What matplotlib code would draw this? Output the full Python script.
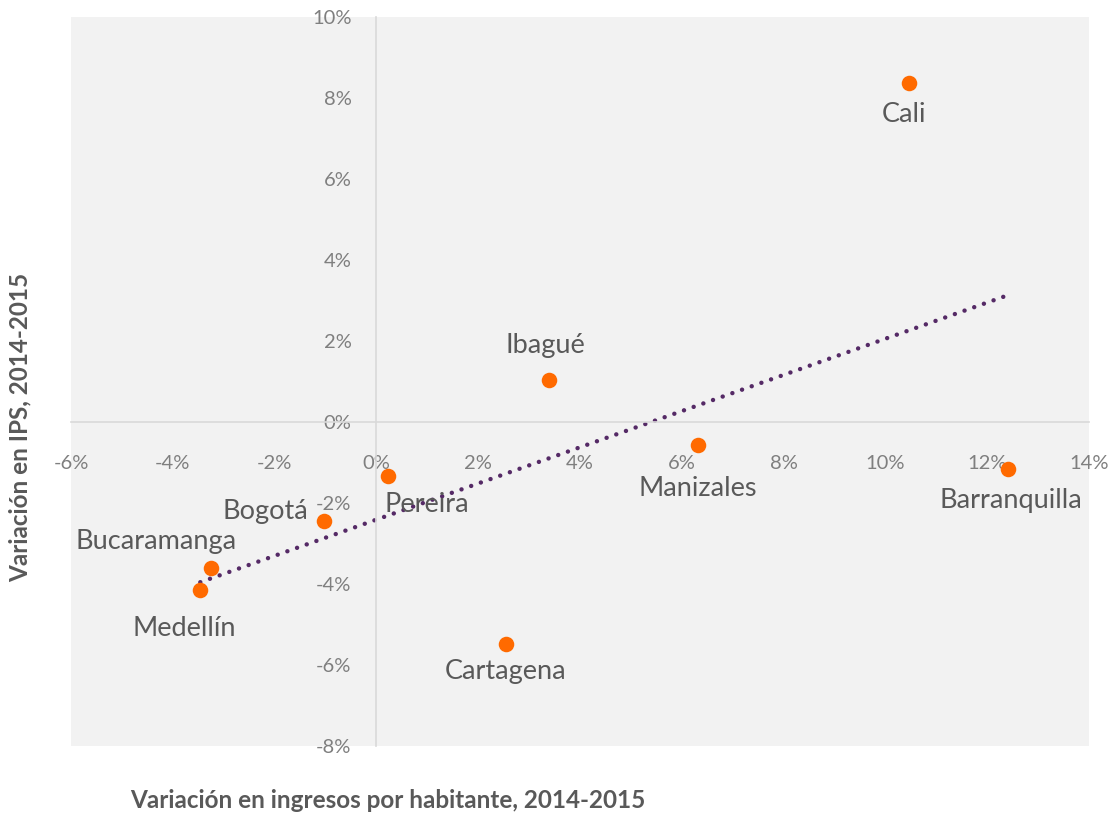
import numpy as np
import matplotlib.pyplot as plt
from matplotlib.ticker import FuncFormatter, MultipleLocator

plt.rcParams['font.family'] = ['Lato', 'DejaVu Sans']

# data (percent)
cities = ["Cali", "Ibagué", "Manizales", "Barranquilla", "Pereira",
          "Bogotá", "Bucaramanga", "Medellín", "Cartagena"]
ingresos = [10.47, 3.40, 6.32, 12.41, 0.22, -1.03, -3.24, -3.46, 2.55]
ips = [8.38, 1.04, -0.57, -1.16, -1.34, -2.45, -3.61, -4.15, -5.49]

# label offsets in pixels (dx, dy) and alignment
label_pos = {
    "Cali": (-5, -32, "center"),
    "Ibagué": (-4, 34, "center"),
    "Manizales": (0, -43, "center"),
    "Barranquilla": (3, -32, "center"),
    "Pereira": (-3, -28, "left"),
    "Bogotá": (-16, 10, "right"),
    "Bucaramanga": (25, 27, "right"),
    "Medellín": (36, -38, "right"),
    "Cartagena": (-1, -27, "center"),
}

fig = plt.figure(figsize=(11.11, 8.13), dpi=100)
ax = fig.add_axes([71/1111, 67/813, 1018/1111, 729/813])
ax.set_facecolor("#F2F2F2")

x = np.array(ingresos)
y = np.array(ips)
m, b = np.polyfit(x, y, 1)
xt = np.array([x.min(), x.max()])
ax.plot(xt, m*xt + b, color="#552A66", lw=3.2, linestyle=(0, (0.01, 2.3)),
        dash_capstyle="round", zorder=2)

ax.scatter(x, y, s=125, color="#FF6A00", zorder=3, linewidths=0)

for c, xi, yi in zip(cities, ingresos, ips):
    dx, dy, ha = label_pos[c]
    ax.annotate(c, (xi, yi), xytext=(dx, dy), textcoords="offset pixels",
                ha=ha, va="center", fontsize=19.5, color="#595959", zorder=4)

ax.set_xlim(-6, 14)
ax.set_ylim(-8, 10)
ax.xaxis.set_major_locator(MultipleLocator(2))
ax.yaxis.set_major_locator(MultipleLocator(2))
pct = FuncFormatter(lambda v, p: "%d%%" % round(v))
ax.xaxis.set_major_formatter(pct)
ax.yaxis.set_major_formatter(pct)

for s in ["top", "right"]:
    ax.spines[s].set_visible(False)
ax.spines["left"].set_position(("data", 0))
ax.spines["bottom"].set_position(("data", 0))
ax.spines["left"].set_color("#D9D9D9")
ax.spines["bottom"].set_color("#D9D9D9")
ax.spines["left"].set_linewidth(1.2)
ax.spines["bottom"].set_linewidth(1.2)
ax.tick_params(axis="x", length=0, pad=24, labelsize=14.5, labelcolor="#7F7F7F")
ax.tick_params(axis="y", length=0, pad=18, labelsize=14.5, labelcolor="#7F7F7F")

fig.text(20/1111, 1 - 427/813, "Variación en IPS, 2014-2015", rotation=90,
         ha="center", va="center", fontsize=17.5, fontweight="bold", color="#595959")
fig.text(388/1111, 1 - 800/813, "Variación en ingresos por habitante, 2014-2015",
         ha="center", va="center", fontsize=17.5, fontweight="bold", color="#595959")

fig.savefig("out.png", dpi=100)
